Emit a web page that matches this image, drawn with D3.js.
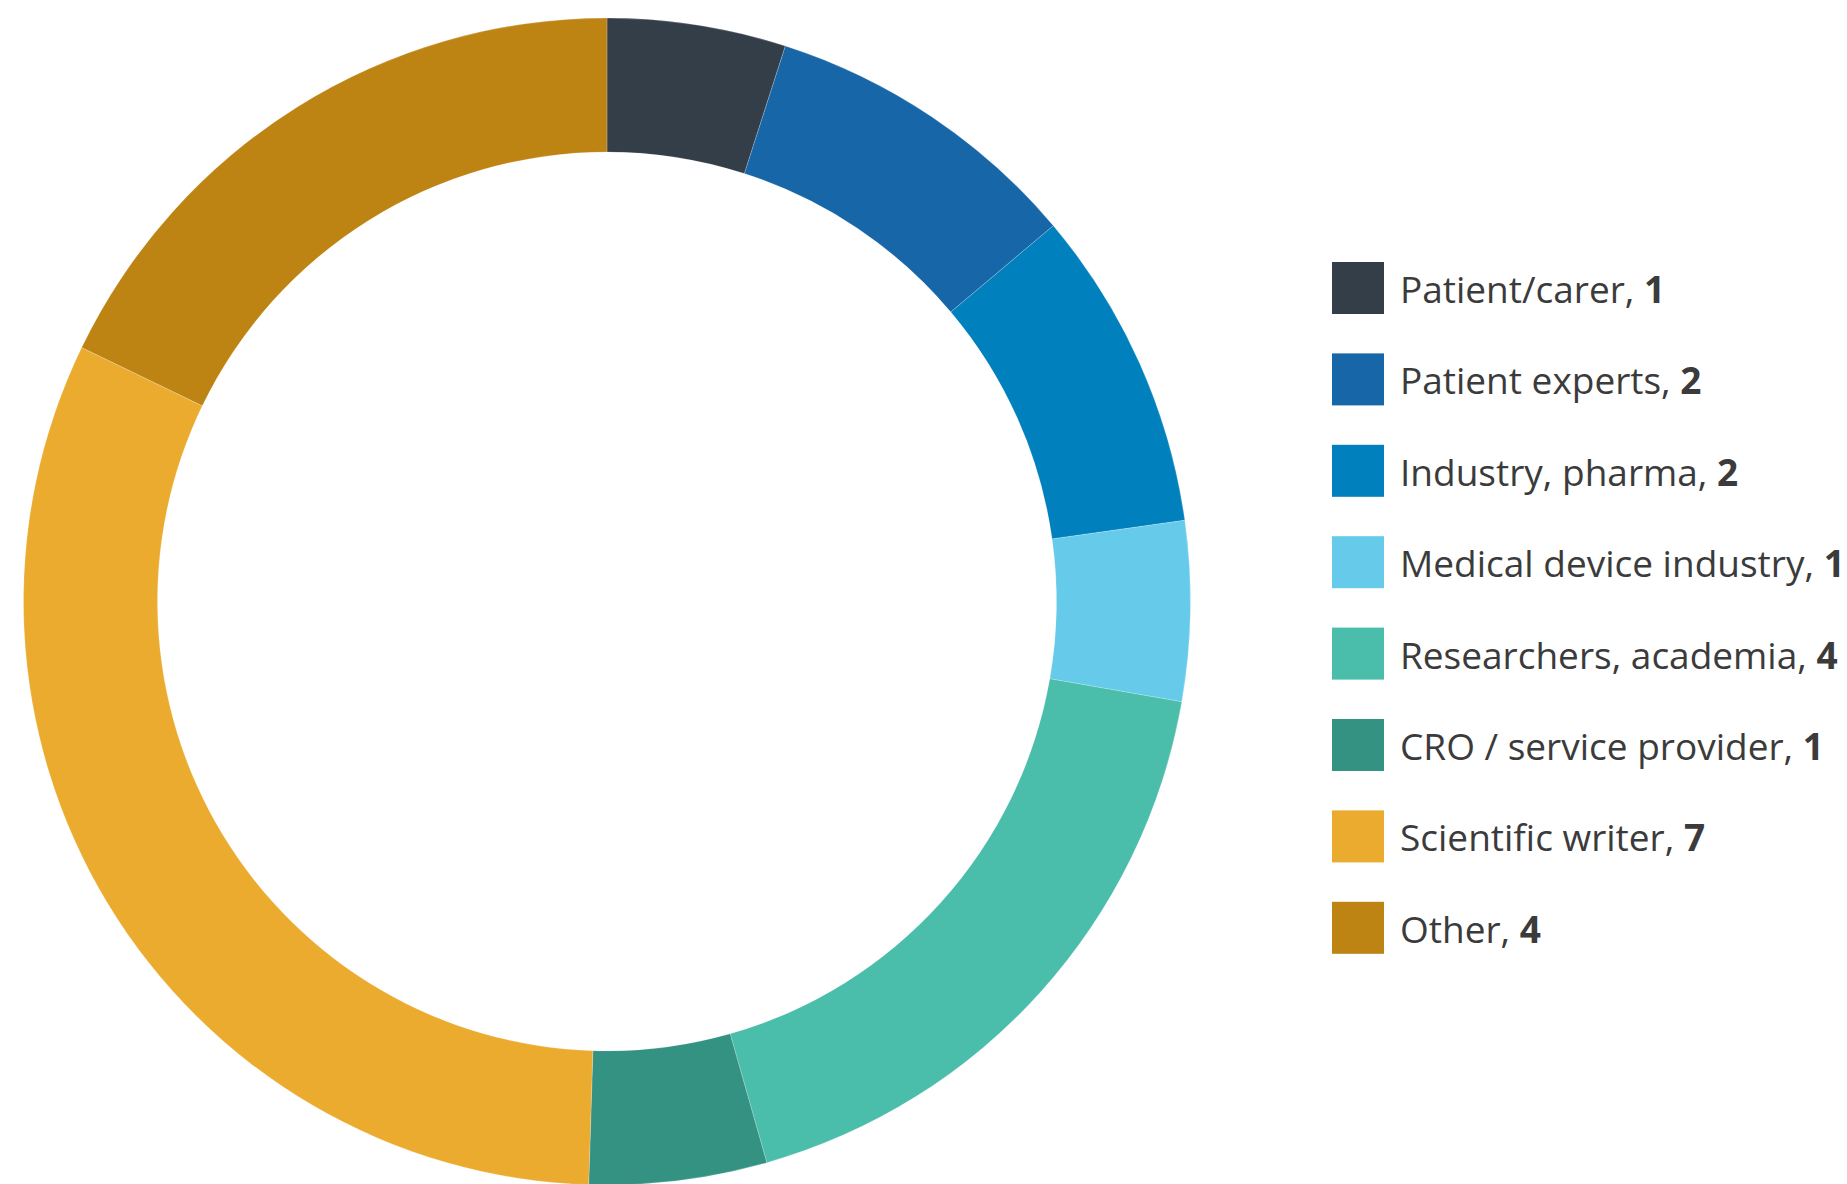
<!DOCTYPE html>
<html>
<head>
<meta charset="utf-8">
<script src="https://cdn.jsdelivr.net/npm/d3@7"></script>
<style>
  html, body { margin: 0; padding: 0; background: #fff; }
  svg { display: block; }
</style>
</head>
<body>
<svg id="chart" width="1847" height="1184"></svg>
<script>
// Categories and their counts (as printed in the legend)
const categories = [
  "Patient/carer",
  "Patient experts",
  "Industry, pharma",
  "Medical device industry",
  "Researchers, academia",
  "CRO / service provider",
  "Scientific writer",
  "Other"
];
const counts = [1, 2, 2, 1, 4, 1, 7, 4];
// Slice sizes (degrees of arc per slice)
const sliceShares = [17.8, 32.1, 32.1, 17.9, 64.2, 17.7, 114.0, 64.2];
const colors = [
  "#343e49", "#1766a8", "#0080bd", "#66cbea",
  "#4bbdab", "#349282", "#eaab2f", "#be8413"
];

const svg = d3.select("#chart");
const cx = 607, cy = 601.5, rOuter = 583.5, rInner = 449.5;

const data = categories.map((c, i) => ({ name: c, count: counts[i], share: sliceShares[i], color: colors[i] }));

const pie = d3.pie().value(d => d.share).sort(null);
const arc = d3.arc().innerRadius(rInner).outerRadius(rOuter);

const g = svg.append("g").attr("transform", `translate(${cx},${cy})`);
g.selectAll("path")
  .data(pie(data))
  .join("path")
  .attr("d", arc)
  .attr("fill", d => d.data.color)
  .attr("stroke", "#ffffff")
  .attr("stroke-opacity", 0.35)
  .attr("stroke-width", 0.6);

// Legend
const legX = 1332, legY0 = 262, rowStep = 91.4, sw = 52;
const y = d3.scaleLinear().domain([0, 1]).range([legY0, legY0 + rowStep]);
const leg = svg.append("g");
const rows = leg.selectAll("g.row").data(data).join("g")
  .attr("class", "row")
  .attr("transform", (d, i) => `translate(${legX},${y(i)})`);
rows.append("rect")
  .attr("width", sw).attr("height", sw)
  .attr("fill", d => d.color);
const txt = rows.append("text")
  .attr("x", 68).attr("y", 41)
  .attr("fill", "#3b3b3b")
  .style("font-family", "'Open Sans', 'Noto Sans', sans-serif")
  .style("font-size", "37px");
txt.append("tspan").text(d => d.name + ", ");
txt.append("tspan").style("font-weight", "700").text(d => d.count);
</script>
</body>
</html>
